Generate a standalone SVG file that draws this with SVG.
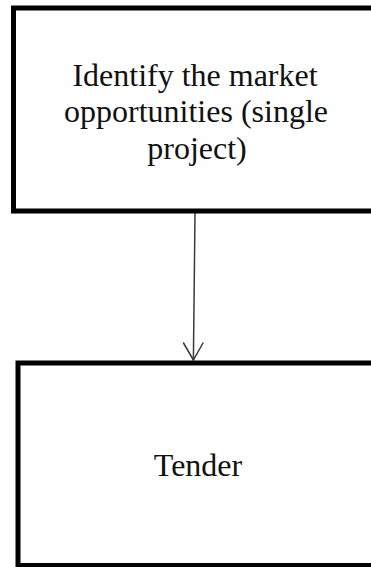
<svg xmlns="http://www.w3.org/2000/svg" width="371" height="567" viewBox="0 0 371 567">
  <style>
    .box { fill: #ffffff; stroke: #000000; stroke-width: 5; }
    .label { font-family: "Liberation Serif", "Times New Roman", serif; font-size: 32px; fill: #111111; text-anchor: middle; }
    .conn { fill: none; stroke: #3a3a3a; stroke-width: 1.5; stroke-linecap: round; stroke-linejoin: round; }
  </style>
  <rect width="371" height="567" fill="#ffffff"/>

  <g id="connectors">
    <path class="conn" d="M195 213 L193.4 360"/>
    <path class="conn" d="M183.5 343 L193.4 360 L203 343"/>
  </g>

  <g id="node-identify">
    <rect class="box" x="13.5" y="8" width="380" height="203"/>
    <text class="label" x="195" y="86">Identify the market</text>
    <text class="label" x="196" y="122">opportunities (single</text>
    <text class="label" x="197" y="159">project)</text>
  </g>

  <g id="node-tender">
    <rect class="box" x="18" y="363" width="380" height="202.5"/>
    <text class="label" x="198" y="476">Tender</text>
  </g>
</svg>
